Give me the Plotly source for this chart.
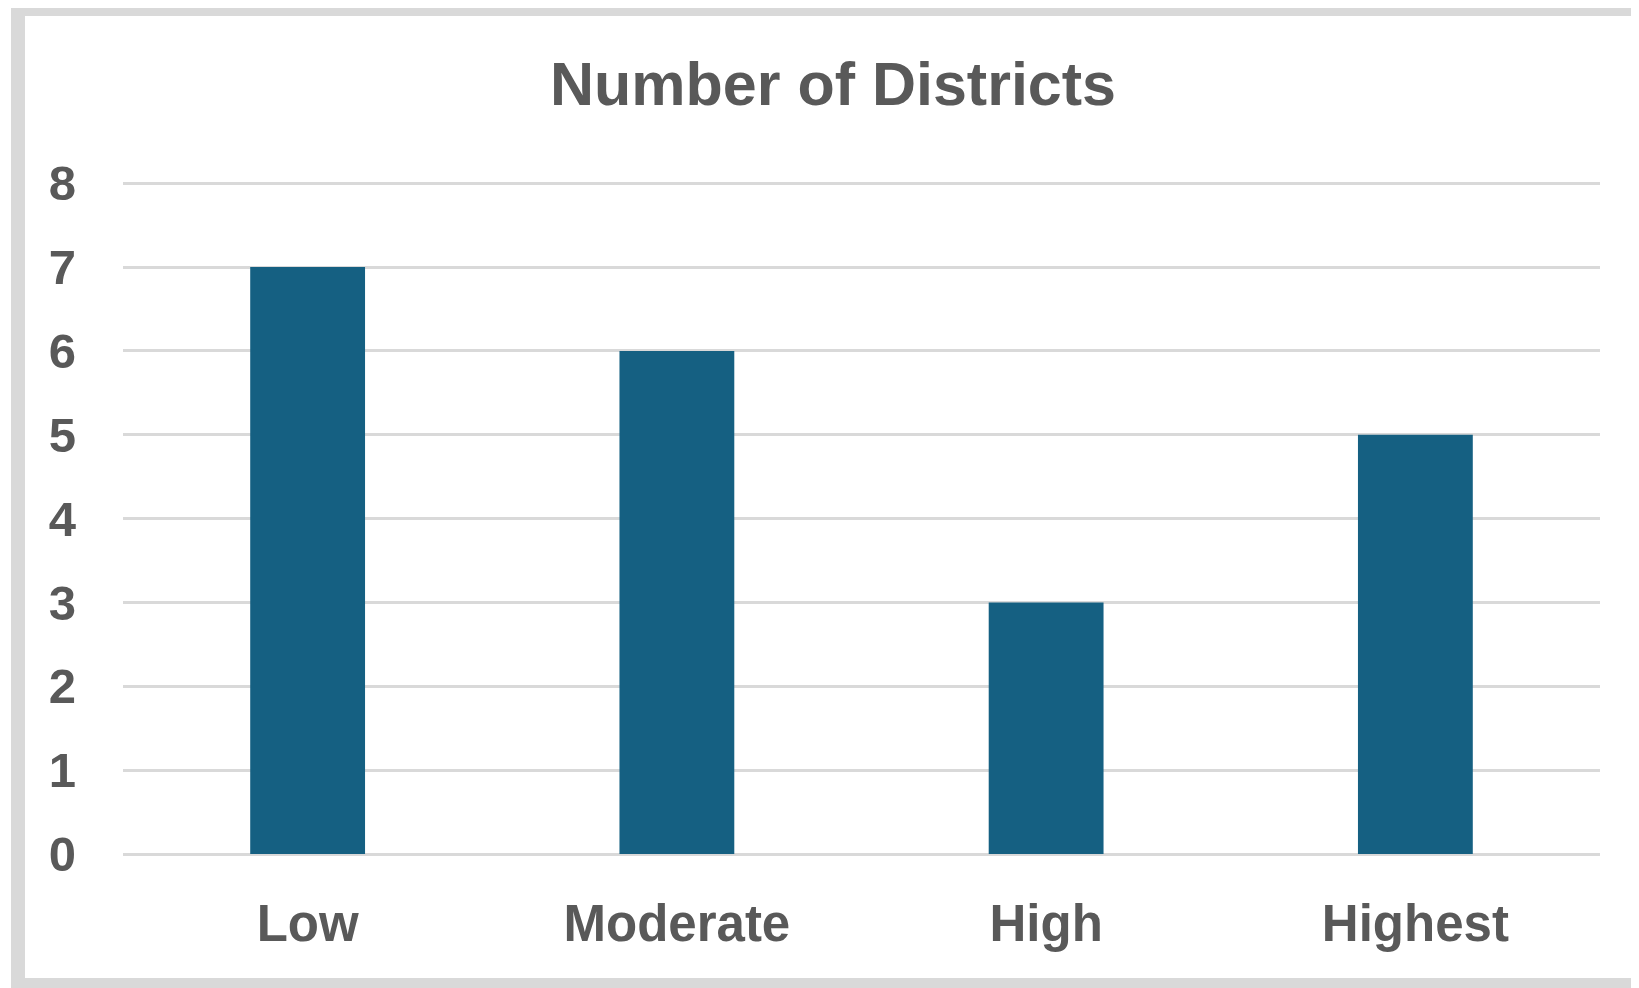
import plotly.graph_objects as go

categories = ["Low", "Moderate", "High", "Highest"]
districts = [7, 6, 3, 5]
y_ticks = [0, 1, 2, 3, 4, 5, 6, 7, 8]

OFF = 8  # page body margin
W, H = 1639 - OFF, 988 - OFF
YMAX = 8.05
L, R, B = 123 - OFF, 1600 - OFF, 854 - OFF
T = round(B - (B - (183 - OFF)) * YMAX / 8)

def px(x):
    return (x - OFF - L) / (R - L)

def py(y):
    return (B - (y - OFF)) / (B - T)

fig = go.Figure(go.Bar(x=categories, y=districts, marker=dict(color="#156082", line=dict(width=0)),
                       hoverinfo="x+y"))

border = "#d9d9d9"
shapes = [
    dict(type="rect", xref="paper", yref="paper", x0=px(11), x1=px(1660), y0=py(0), y1=py(16),
         fillcolor=border, line=dict(width=0), layer="below"),
    dict(type="rect", xref="paper", yref="paper", x0=px(11), x1=px(25), y0=py(0), y1=py(1000),
         fillcolor=border, line=dict(width=0), layer="below"),
    dict(type="rect", xref="paper", yref="paper", x0=px(11), x1=px(1660), y0=py(978), y1=py(1000),
         fillcolor=border, line=dict(width=0), layer="below"),
]

font_fam = "Liberation Sans, Arial, sans-serif"
fig.update_layout(
    width=W, height=H,
    margin=dict(l=L, r=W - R, t=T, b=H - B, pad=0),
    paper_bgcolor="white", plot_bgcolor="white",
    bargap=0.689,
    showlegend=False,
    shapes=shapes,
    title=dict(text="Number of Districts", x=(833 - OFF) / W, xanchor="center",
               xref="container", yref="container", y=1 - (84 - OFF) / H, yanchor="middle",
               font=dict(family=font_fam, size=61, color="#595959", weight="bold")),
    font=dict(family=font_fam, color="#595959"),
)
fig.update_yaxes(range=[0, YMAX], tickvals=y_ticks, showgrid=True, gridcolor="#d9d9d9", gridwidth=3,
                 zeroline=True, zerolinecolor="#d9d9d9", zerolinewidth=3, showline=False,
                 ticks="", ticklabelstandoff=46,
                 tickfont=dict(family=font_fam, size=49, color="#595959", weight="bold"))
fig.update_xaxes(showgrid=False, showline=False, ticks="", ticklabelstandoff=35,
                 tickfont=dict(family=font_fam, size=51, color="#595959", weight="bold"))

fig.write_html("out.html")
